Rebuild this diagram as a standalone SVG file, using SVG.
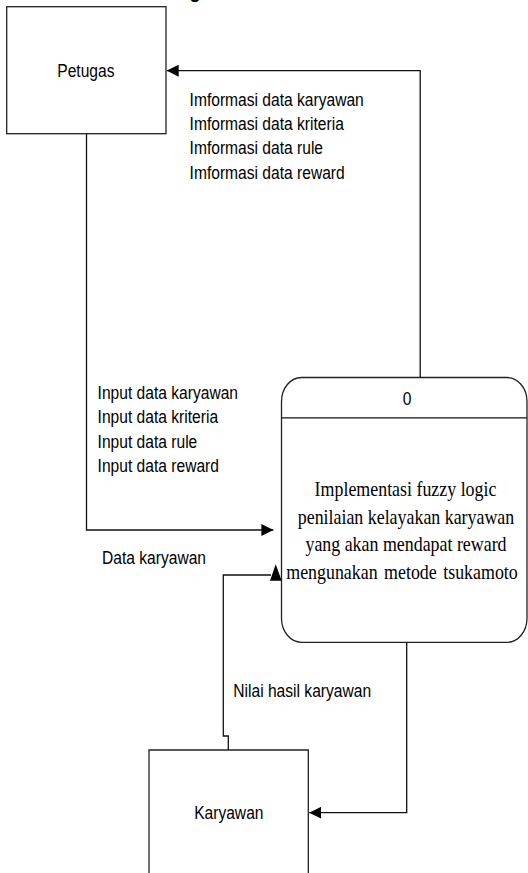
<svg xmlns="http://www.w3.org/2000/svg" width="528" height="873" viewBox="0 0 528 873">
  <style>
    .box { fill: #ffffff; stroke: #222222; stroke-width: 1.3; }
    .line { fill: none; stroke: #111111; stroke-width: 1.3; }
    .head { fill: #000000; stroke: none; }
    .sans { font-family: "Liberation Sans", Arial, sans-serif; font-size: 15.6px; fill: #000000; }
    .serif { font-family: "Liberation Serif", "Times New Roman", serif; font-size: 17.9px; fill: #000000; }
    .mid { text-anchor: middle; }
  </style>
  <defs>
    <marker id="arrow" viewBox="0 0 12 12" refX="12" refY="6" markerWidth="12" markerHeight="12" markerUnits="userSpaceOnUse" orient="auto">
      <path d="M0,0 L12,6 L0,12 Z" class="head"/>
    </marker>
  </defs>

  <rect width="528" height="873" fill="#ffffff"/>

  <!-- caption descender cut at the top edge -->
  <text transform="translate(189,-3.2) scale(1,1.185)" font-family="Liberation Sans, Arial, sans-serif" font-size="22" fill="#000">g</text>

  <!-- external entity: Petugas -->
  <g id="petugas">
    <rect class="box" x="6.7" y="6.7" width="159.3" height="127"/>
    <text class="sans mid" transform="translate(85.9,77.4) scale(1,1.185)">Petugas</text>
  </g>

  <!-- process 0 -->
  <g id="process-0">
    <path class="box" d="M281.5,401.5 A20,24 0 0 1 301.5,377.5 H507 A20,24 0 0 1 527,401.5 V618.3 A20,24 0 0 1 507,642.3 H301.5 A20,24 0 0 1 281.5,618.3 Z"/>
    <line class="line" x1="281.5" y1="417.9" x2="527" y2="417.9"/>
    <text class="sans mid" transform="translate(407,404.8) scale(1,1.185)" font-size="17">0</text>
    <text class="serif mid" transform="translate(405.5,495.8) scale(1,1.185)">Implementasi fuzzy logic</text>
    <text class="serif mid" transform="translate(406,523.6) scale(1,1.185)">penilaian kelayakan karyawan</text>
    <text class="serif mid" transform="translate(406,551.4) scale(1,1.185)">yang akan mendapat reward</text>
    <text class="serif mid" transform="translate(402,579.2) scale(1,1.185)" word-spacing="2">mengunakan metode tsukamoto</text>
  </g>

  <!-- external entity: Karyawan -->
  <g id="karyawan">
    <path class="box" d="M149,880 V750 H308.3 V880"/>
    <text class="sans mid" transform="translate(228.8,819) scale(1,1.185)">Karyawan</text>
  </g>

  <!-- data flows -->
  <g id="connectors">
    <!-- process 0 -> Petugas -->
    <path class="line" d="M420.2,377.5 V70.7 H166.7" marker-end="url(#arrow)"/>
    <!-- Petugas -> process 0 -->
    <path class="line" d="M86.5,133.7 V530 H273.4" marker-end="url(#arrow)"/>
    <!-- process 0 -> Karyawan -->
    <path class="line" d="M406.7,642.3 V812.7 H309.3" marker-end="url(#arrow)"/>
    <!-- Karyawan -> process 0 -->
    <path class="line" d="M228.3,750 V736 H223.3 V575 H271"/>
    <polygon class="head" points="275.7,564.3 281.7,580.7 270,580.7"/>
  </g>

  <!-- flow labels -->
  <g id="labels">
    <g id="label-informasi">
      <text class="sans" transform="translate(189.6,105.7) scale(1,1.185)">Imformasi data karyawan</text>
      <text class="sans" transform="translate(189.6,130) scale(1,1.185)">Imformasi data kriteria</text>
      <text class="sans" transform="translate(189.6,154.3) scale(1,1.185)">Imformasi data rule</text>
      <text class="sans" transform="translate(189.6,178.6) scale(1,1.185)">Imformasi data reward</text>
    </g>
    <g id="label-input">
      <text class="sans" transform="translate(97.6,398.7) scale(1,1.185)">Input data karyawan</text>
      <text class="sans" transform="translate(97.6,423.2) scale(1,1.185)">Input data kriteria</text>
      <text class="sans" transform="translate(97.6,447.7) scale(1,1.185)">Input data rule</text>
      <text class="sans" transform="translate(97.6,472.2) scale(1,1.185)">Input data reward</text>
    </g>
    <text id="label-data-karyawan" class="sans" transform="translate(102,564.4) scale(1,1.185)">Data karyawan</text>
    <text id="label-nilai" class="sans" transform="translate(233.3,696.7) scale(1,1.185)">Nilai hasil karyawan</text>
  </g>
</svg>
